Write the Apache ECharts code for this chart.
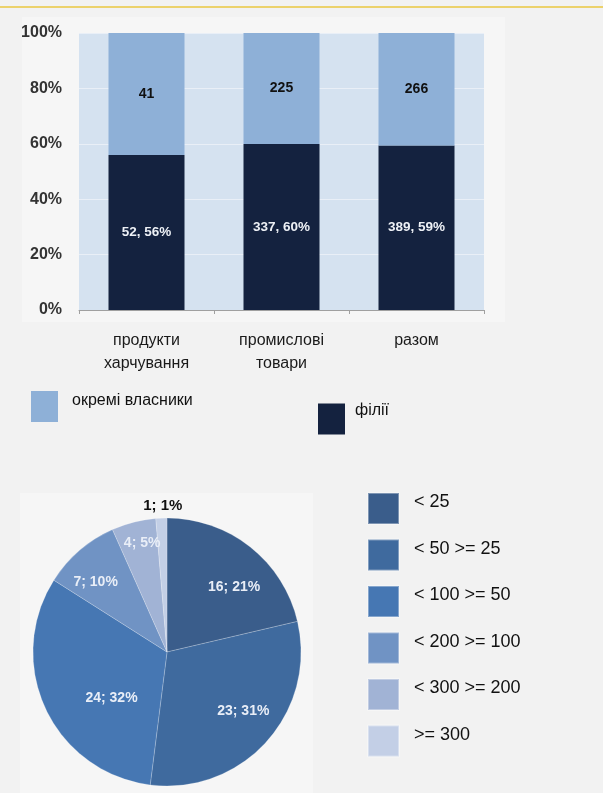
<!DOCTYPE html>
<html>
<head>
<meta charset="utf-8">
<script src="https://cdn.jsdelivr.net/npm/echarts@6/dist/echarts.min.js"></script>
<style>
  html, body { margin: 0; padding: 0; background: #f2f2f2; }
  #chart { width: 603px; height: 793px; }
</style>
</head>
<body>
<div id="chart"></div>
<script>
// стовпчики: частка філій та окремих власників
const categories = ['продукти\nхарчування', 'промислові\nтовари', 'разом'];
const branches = [52, 337, 389];
const owners = [41, 225, 266];
const yTicks = [0, 20, 40, 60, 80, 100];

// сектори: розподіл за розміром
const pieNames = ['< 25', '< 50 >= 25', '< 100 >= 50', '< 200 >= 100', '< 300 >= 200', '>= 300'];
const pieValues = [16, 23, 24, 7, 4, 1];
const piePct = [21, 31, 32, 10, 5, 1];

const narrow = "'Liberation Sans Narrow', 'Arial Narrow', 'Liberation Sans', Arial, sans-serif";
const sans = "'Liberation Sans', Arial, sans-serif";

const branchPct = branches.map((v, i) => v / (v + owners[i]) * 100);
const ownerPct = owners.map((v, i) => v / (v + branches[i]) * 100);

// зсуви підписів секторів, щоб вони стояли як на оригіналі
const pieLabelShift = {
  0: { dx: 5, dy: 14 },
  1: { dx: 2, dy: -8 },
  2: { dx: 35, dy: 4 },
  3: { dx: -6, dy: 6 },
  4: { dy: -12 },
  5: { dy: -46 }
};

const chart = echarts.init(document.getElementById('chart'), null, { renderer: 'canvas' });

const legendText = (size, pad, lh) => ({
  fontSize: size, color: '#111', fontFamily: sans,
  rich: { t: { fontSize: size, color: '#111', fontFamily: sans, lineHeight: lh, padding: pad } }
});

const option = {
  backgroundColor: '#f2f2f2',
  animation: false,
  graphic: [
    { type: 'line', shape: { x1: 0, y1: 7, x2: 603, y2: 7 }, style: { stroke: '#ecd26c', lineWidth: 2 } },
    { type: 'rect', z: -10, shape: { x: 22, y: 17, width: 483, height: 305 }, style: { fill: '#f6f6f6' } },
    { type: 'rect', z: -10, shape: { x: 20, y: 493, width: 293, height: 300 }, style: { fill: '#f6f6f6' } }
  ],
  grid: {
    left: 79, top: 33, width: 405, height: 277,
    show: true, backgroundColor: '#d5e2f0', borderWidth: 0
  },
  xAxis: {
    type: 'category',
    data: categories,
    axisLine: { lineStyle: { color: '#a0a0a0' } },
    axisTick: { show: true, length: 4, lineStyle: { color: '#a0a0a0' } },
    axisLabel: { margin: 19, fontSize: 16, lineHeight: 23, color: '#1a1a1a', fontFamily: sans }
  },
  yAxis: {
    type: 'value',
    min: 0, max: 100, interval: 20,
    axisLabel: {
      margin: 17, fontSize: 16, fontWeight: 'bold', color: '#333', fontFamily: narrow,
      formatter: v => yTicks.includes(v) ? v + '%' : ''
    },
    splitLine: { lineStyle: { color: '#e9eff7', width: 1 } },
    axisLine: { show: false },
    axisTick: { show: false }
  },
  legend: [
    {
      data: ['окремі власники'], left: 31, top: 391, padding: 0,
      icon: 'rect', itemWidth: 27, itemHeight: 31,
      formatter: '{t|{name}}',
      textStyle: legendText(16, [0, 0, 12, 9], 16)
    },
    {
      data: ['філії'], left: 318, top: 403, padding: 0,
      icon: 'rect', itemWidth: 27, itemHeight: 31,
      formatter: '{t|{name}}',
      textStyle: legendText(16, [0, 0, 16, 5], 14)
    },
    {
      data: pieNames, left: 367, top: 492, padding: 0, orient: 'vertical',
      icon: 'rect', itemWidth: 31, itemHeight: 31, itemGap: 13.5,
      formatter: '{t|{name}}',
      textStyle: legendText(18, [0, 0, 12, 10], 18)
    }
  ],
  series: [
    {
      name: 'філії',
      type: 'bar',
      stack: 'total',
      barWidth: 76,
      color: '#14223f',
      data: branchPct,
      label: {
        show: true, position: 'inside', color: '#eef1f6', fontSize: 13.5, fontWeight: 'bold', fontFamily: narrow,
        formatter: p => branches[p.dataIndex] + ', ' + Math.round(p.value) + '%'
      }
    },
    {
      name: 'окремі власники',
      type: 'bar',
      stack: 'total',
      barWidth: 76,
      color: '#8eb0d7',
      data: ownerPct,
      label: {
        show: true, position: 'inside', color: '#111', fontSize: 14, fontWeight: 'bold', fontFamily: narrow,
        formatter: p => String(owners[p.dataIndex])
      }
    },
    {
      type: 'pie',
      center: [167, 652],
      radius: 134,
      startAngle: 90,
      color: ['#3a5d8b', '#3f6a9e', '#4677b3', '#7093c4', '#a1b3d5', '#c3cfe6'],
      itemStyle: { borderColor: 'rgba(255,255,255,0.35)', borderWidth: 0.6 },
      label: { show: false },
      labelLine: { show: false },
      data: pieNames.map((n, i) => ({ name: n, value: pieValues[i] }))
    },
    {
      type: 'pie',
      center: [167, 652],
      radius: [60, 134],
      startAngle: 90,
      silent: true,
      legendHoverLink: false,
      itemStyle: { color: 'transparent' },
      labelLine: { show: false },
      label: {
        show: true, position: 'inside', color: '#e9eef7', fontSize: 14, fontWeight: 'bold', fontFamily: narrow,
        formatter: p => pieValues[p.dataIndex] + '; ' + piePct[p.dataIndex] + '%'
      },
      labelLayout: p => pieLabelShift[p.dataIndex] || {},
      data: pieNames.map((n, i) => ({
        name: n + ' ',
        value: pieValues[i],
        label: i === 5 ? { color: '#111', fontSize: 15 } : undefined
      }))
    }
  ]
};

chart.setOption(option);
</script>
</body>
</html>
